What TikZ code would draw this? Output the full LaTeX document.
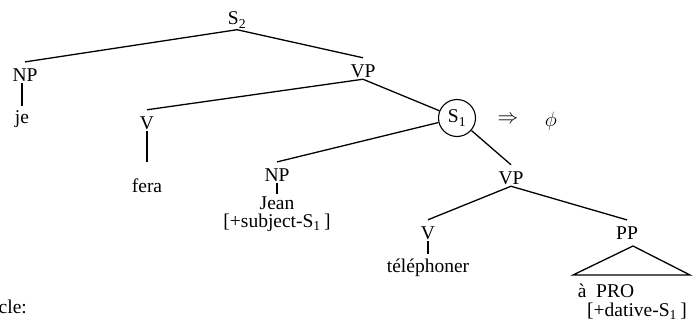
\documentclass[tikz,border=0pt]{standalone}
\usepackage{fontspec}
\setmainfont{Liberation Serif}
\begin{document}
\begin{tikzpicture}[x=1pt,y=-1pt,
  lab/.style={font=\fontsize{19.5}{21}\selectfont, inner sep=1.5pt},
  tight/.style={inner sep=0.3pt},
  edge/.style={line width=1.3pt},
  up/.style={yshift=5pt}]
\useasboundingbox (0,0) rectangle (697,322);
% categories and words
\node[lab] (S2)  at (237,20)  {S\textsubscript{2}};
\node[lab] (NP1) at (25,75)   {NP};
\node[lab] (je)  at (22,119)  {je};
\node[lab] (VP1) at (363,71)  {VP};
\node[lab] (V1)  at (147,123) {V};
\node[lab] (fera) at (147,186) {fera};
\node[lab, draw, circle, line width=1.1pt, inner sep=1pt, minimum size=37pt] (S1) at (457,118) {S\textsubscript{1}};
\node[lab] (arr) at (508,120) {$\Rightarrow$};
\node[lab] (phi) at (551,121) {$\phi$};
\node[lab] (NP2) at (277,175) {NP};
\node[lab, tight] (Jean) at (277,203) {Jean};
\node[lab, tight] (subj) at (277,223) {[+subject-S\textsubscript{1}\,]};
\node[lab] (VP2) at (511,178) {VP};
\node[lab] (V2)  at (428,233) {V};
\node[lab] (tel) at (428,268) {téléphoner};
\node[lab] (PP)  at (627,233) {PP};
\node[lab, tight] (aPRO) at (606,291) {à\ \ PRO};
\node[lab, tight] (dat)  at (637,311) {[+dative-S\textsubscript{1}\,]};
\node[lab, anchor=west] (cle) at (-3,307) {cle:};
% roof over the PP
\coordinate (apex) at (633,246);
\coordinate (baseL) at (573,275);
\coordinate (baseR) at (690,275);
% branches
\draw[edge] (S2.south) -- ([up]NP1.north);
\draw[edge] (S2.south) -- ([up]VP1.north);
\draw[edge] (VP1.south) -- ([up]V1.north);
\draw[edge] (VP1.south) -- (S1);
\draw[edge] (S1) -- ([up]NP2.north);
\draw[edge] (S1) -- ([up]VP2.north);
\draw[edge] (VP2.south) -- ([up]V2.north);
\draw[edge] (VP2.south) -- ([up]PP.north);
% unary bars down to the words
\draw[edge] (je.north |- NP1.south) -- ([yshift=3pt]je.north);
\draw[edge] (fera.north |- V1.south) -- ([yshift=15pt]fera.north);
\draw[edge] (Jean.north |- NP2.south) -- ([yshift=2pt]Jean.north);
\draw[edge] (tel.north |- V2.south) -- ([yshift=3pt]tel.north);
\draw[edge] (apex) -- (baseL) -- (baseR) -- cycle;
\end{tikzpicture}
\end{document}
